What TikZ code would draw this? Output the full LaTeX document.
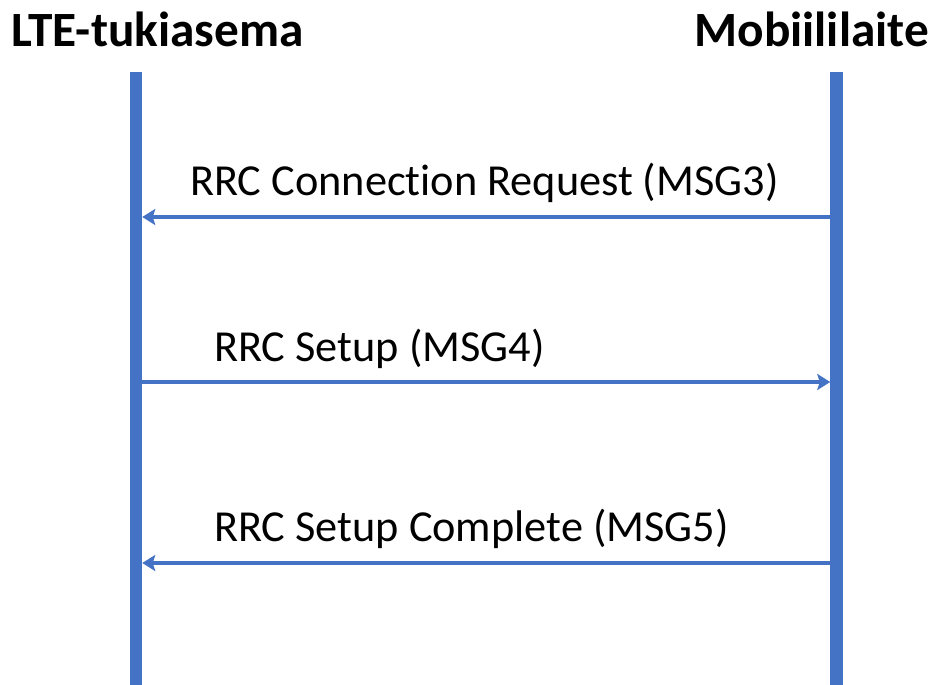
\documentclass[tikz,border=0pt]{standalone}
\usepackage{fontspec}
\setmainfont{Carlito}[RawFeature={-liga;-clig;-calt;-dlig}]
\usetikzlibrary{arrows.meta}
\definecolor{officeblue}{HTML}{4472C4}
\tikzset{
  lifeline/.style={draw=officeblue, line width=12.5pt},
  msg/.style={draw=officeblue, line width=4.6pt, shorten <=6.25pt, shorten >=6.25pt,
    -{Stealth[length=13pt, width=16pt, inset=2.5pt]}},
  msglabel/.style={anchor=base west, inner sep=0pt, font=\fontsize{44.3}{52}\selectfont},
  actor/.style={inner sep=0pt, font=\fontsize{49.3}{58}\selectfont\bfseries}
}
\begin{document}
\begin{tikzpicture}[x=1pt, y=-1pt]
  \useasboundingbox (0,0) rectangle (934,685);
  % participants
  \node[actor, anchor=base west] (bsname) at (11,47) {LTE-tukiasema};
  \node[actor, anchor=base east] (uename) at (929,47) {Mobiililaite};
  % lifelines
  \coordinate (bsTop) at (136,72);
  \coordinate (bsBot) at (136,685);
  \coordinate (ueTop) at (836.5,72);
  \coordinate (ueBot) at (836.5,685);
  \draw[lifeline] (bsTop) -- (bsBot);
  \draw[lifeline] (ueTop) -- (ueBot);
  % message anchor points on the lifelines
  \coordinate (bs3) at (136,217);
  \coordinate (ue3) at (836.5,217);
  \coordinate (bs4) at (136,382);
  \coordinate (ue4) at (836.5,382);
  \coordinate (bs5) at (136,563);
  \coordinate (ue5) at (836.5,563);
  % messages
  \draw[msg] (ue3) -- (bs3);
  \node[msglabel] (l3) at (190,195) {RRC Connection Request (MSG3)};
  \draw[msg] (bs4) -- (ue4);
  \node[msglabel] (l4) at (214,361) {RRC Setup (MSG4)};
  \draw[msg] (ue5) -- (bs5);
  \node[msglabel] (l5) at (214,541) {RRC Setup Complete (MSG5)};
\end{tikzpicture}
\end{document}
